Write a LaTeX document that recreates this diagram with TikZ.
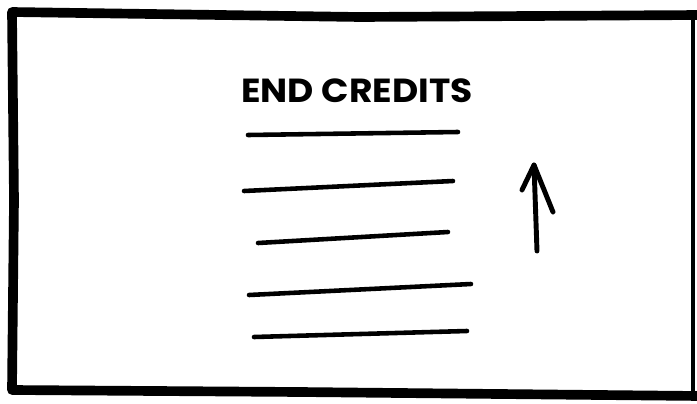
\documentclass[tikz,border=0pt]{standalone}
\usepackage{fontspec}
\newfontfamily\sketchfont{Poppins}
\usetikzlibrary{positioning}

\begin{document}
\begin{tikzpicture}[x=0.02cm,y=-0.02cm,
      frame/.style={line width=5.5pt,line cap=round,line join=round},
      ln/.style={line width=2.6pt,line cap=round},
      arr/.style={line width=2.8pt,line cap=round,line join=round},
      ttl/.style={font=\sketchfont\bfseries\fontsize{19}{19}\selectfont,inner sep=0pt}]
      \useasboundingbox (0,0) rectangle (697,403);
      \coordinate (tl) at (12,12);
      \coordinate (tr) at (700,15);
      \coordinate (br) at (700,396);
      \coordinate (bl) at (12,390);
      \draw[frame] (tr)--(360,17)--(tl)--(14,200)--(bl)--(300,392)--(br);
      \draw[line width=2.4pt] (693,14)--(693,396);
      \node[ttl,xscale=1.08] (title) at (357,91) {END CREDITS};
      \coordinate (c1a) at (248,135); \coordinate (c1b) at (458,132);
      \coordinate (c2a) at (244,191); \coordinate (c2b) at (453,181);
      \coordinate (c3a) at (258,243); \coordinate (c3b) at (448,232);
      \coordinate (c4a) at (249,295); \coordinate (c4b) at (471,284);
      \coordinate (c5a) at (254,337); \coordinate (c5b) at (467,331);
      \foreach \i in {1,...,5}
        \draw[ln] (c\i a)--(c\i b);
      \coordinate (tail) at (537,251);
      \coordinate (tip) at (534,165);
      \coordinate (barb-l) at (522,190);
      \coordinate (barb-r) at (553,212);
      \draw[arr] (tail)--(tip);
      \draw[arr] (barb-l)--(tip)--(barb-r);
\end{tikzpicture}
\end{document}
